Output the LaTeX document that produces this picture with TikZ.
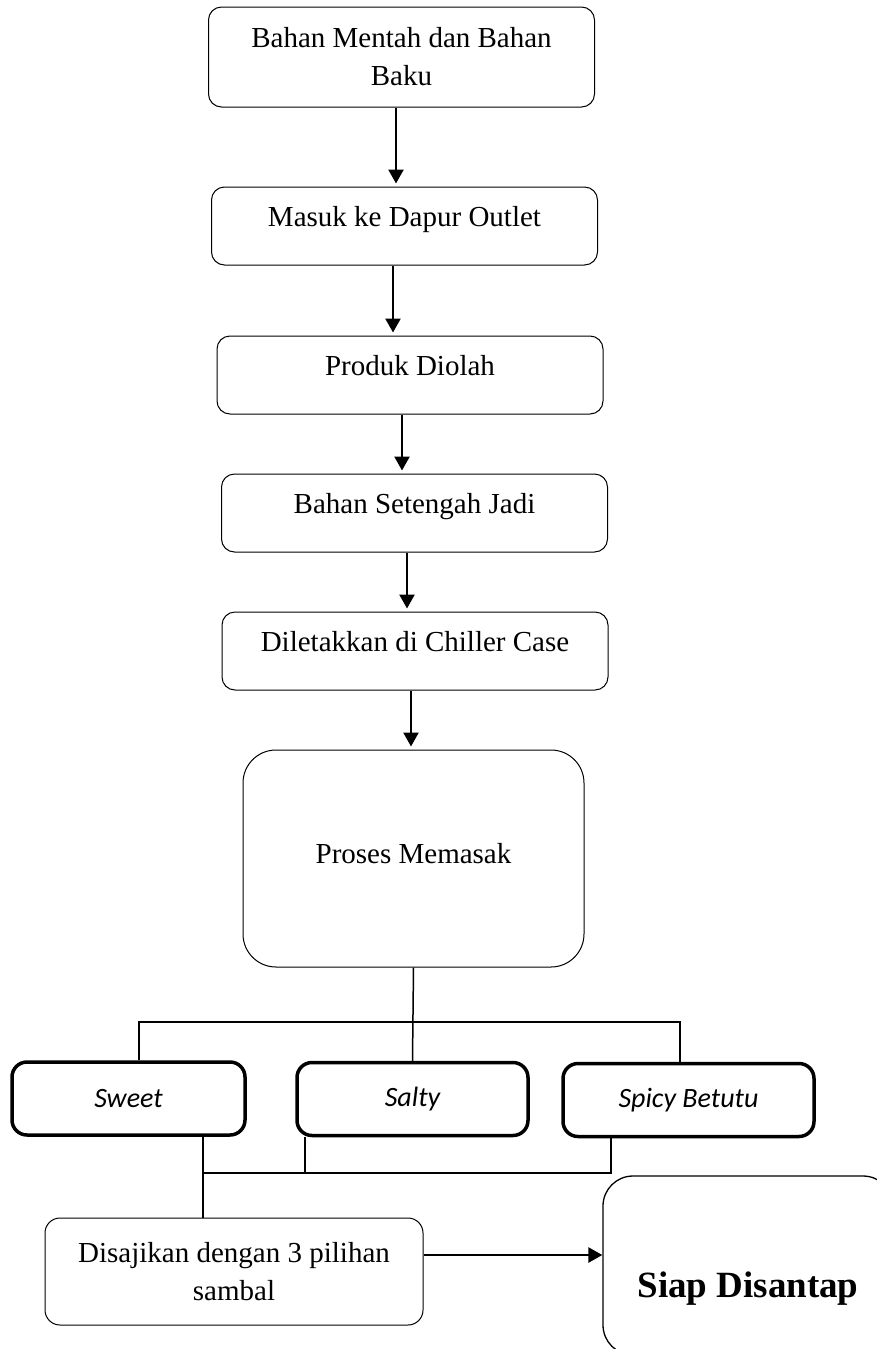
\documentclass[tikz,border=0pt]{standalone}
\usepackage{fontspec}
\setmainfont{Liberation Serif}
\newfontfamily\calibrifont{Carlito}
\usetikzlibrary{arrows.meta,shapes}
\tikzstyle{proc}=[rectangle, draw, line width=1pt
%,fill=black!5
,rounded corners=13pt
,minimum width=386pt, minimum height=78pt
,inner sep=0pt, align=center
,font=\fontsize{29}{38}\selectfont
]
\tikzstyle{oneline}=[text depth=19pt]
\tikzstyle{flavour}=[rectangle, draw, line width=3.5pt
,rounded corners=15pt
,minimum height=73pt, inner sep=0pt
,font=\calibrifont\itshape\fontsize{28}{34}\selectfont
]
\tikzstyle{arr} = [draw, line width=2.5pt, -{Triangle[length=14pt,width=15pt]}, shorten >=3pt]
\tikzstyle{link} = [draw, line width=1.5pt, -]

\begin{document}
\begin{tikzpicture}[x=1pt, y=-1pt]
    \useasboundingbox (0,0) rectangle (877,1349);
    % The chain of preparation steps
    \node[proc, minimum height=100pt] (b1) at (401.5,57) {Bahan Mentah dan Bahan\\Baku};
    \foreach \pos/\name/\txt in {{(404.5,226)/b2/Masuk ke Dapur Outlet}, {(410,375)/b3/Produk Diolah},
                                 {(414.5,513)/b4/Bahan Setengah Jadi}, {(415,651)/b5/Diletakkan di Chiller Case}}
        \node[proc, oneline] (\name) at \pos {\txt};
    \node[proc, rounded corners=33pt, minimum width=341pt, minimum height=217pt, text depth=10pt] (pm) at (413.5,858.5) {Proses Memasak};

    % The three flavours
    \node[flavour, minimum width=233pt] (sw) at (128.5,1098.5) {Sweet};
    \node[flavour, minimum width=231pt] (sa) at (412.5,1099) {Salty};
    \node[flavour, minimum width=251pt] (sp) at (688.5,1100) {Spicy Betutu};

    % Serving and the end
    \node[proc, rounded corners=15pt, minimum width=378pt, minimum height=107pt] (ds) at (234,1271.5) {Disajikan dengan 3 pilihan\\sambal};
    \node[proc, rounded corners=30pt, line width=1.3pt, minimum width=290pt, minimum height=179pt,
          font=\bfseries\fontsize{37}{44}\selectfont, text height=71pt] (si) at (748,1265.5) {Siap Disantap};

    % Arrows between the steps
    \foreach \source/\dest/\dx in {b1/b2/-5.5, b2/b3/-11.5, b3/b4/-8, b4/b5/-7.5, b5/pm/-4}
        \path[arr] ([xshift=\dx pt]\source.south) -- ([xshift=\dx pt]\source.south |- \dest.north);

    % Split into the flavours and join again
    \coordinate (sp1) at (139,1022);
    \coordinate (sp2) at (680,1022);
    \coordinate (jn1) at (203,1173);
    \coordinate (jn2) at (305,1173);
    \coordinate (jn3) at (611,1173);
    \path[link] (pm.south) -- (sa.north);
    \path[link] (sw.north -| sp1) -- (sp1) -- (sp2) -- (sp.north -| sp2);
    \path[link] (sw.south -| jn1) -- (ds.north -| jn1);
    \path[link] (sa.south -| jn2) -- (jn2);
    \path[link] (sp.south -| jn3) -- (jn3) -- (jn1);
    \path[arr, shorten >=0pt] ([yshift=16.5pt]ds.east) -- ([yshift=16.5pt]ds.east -| si.west);
\end{tikzpicture}
\end{document}
